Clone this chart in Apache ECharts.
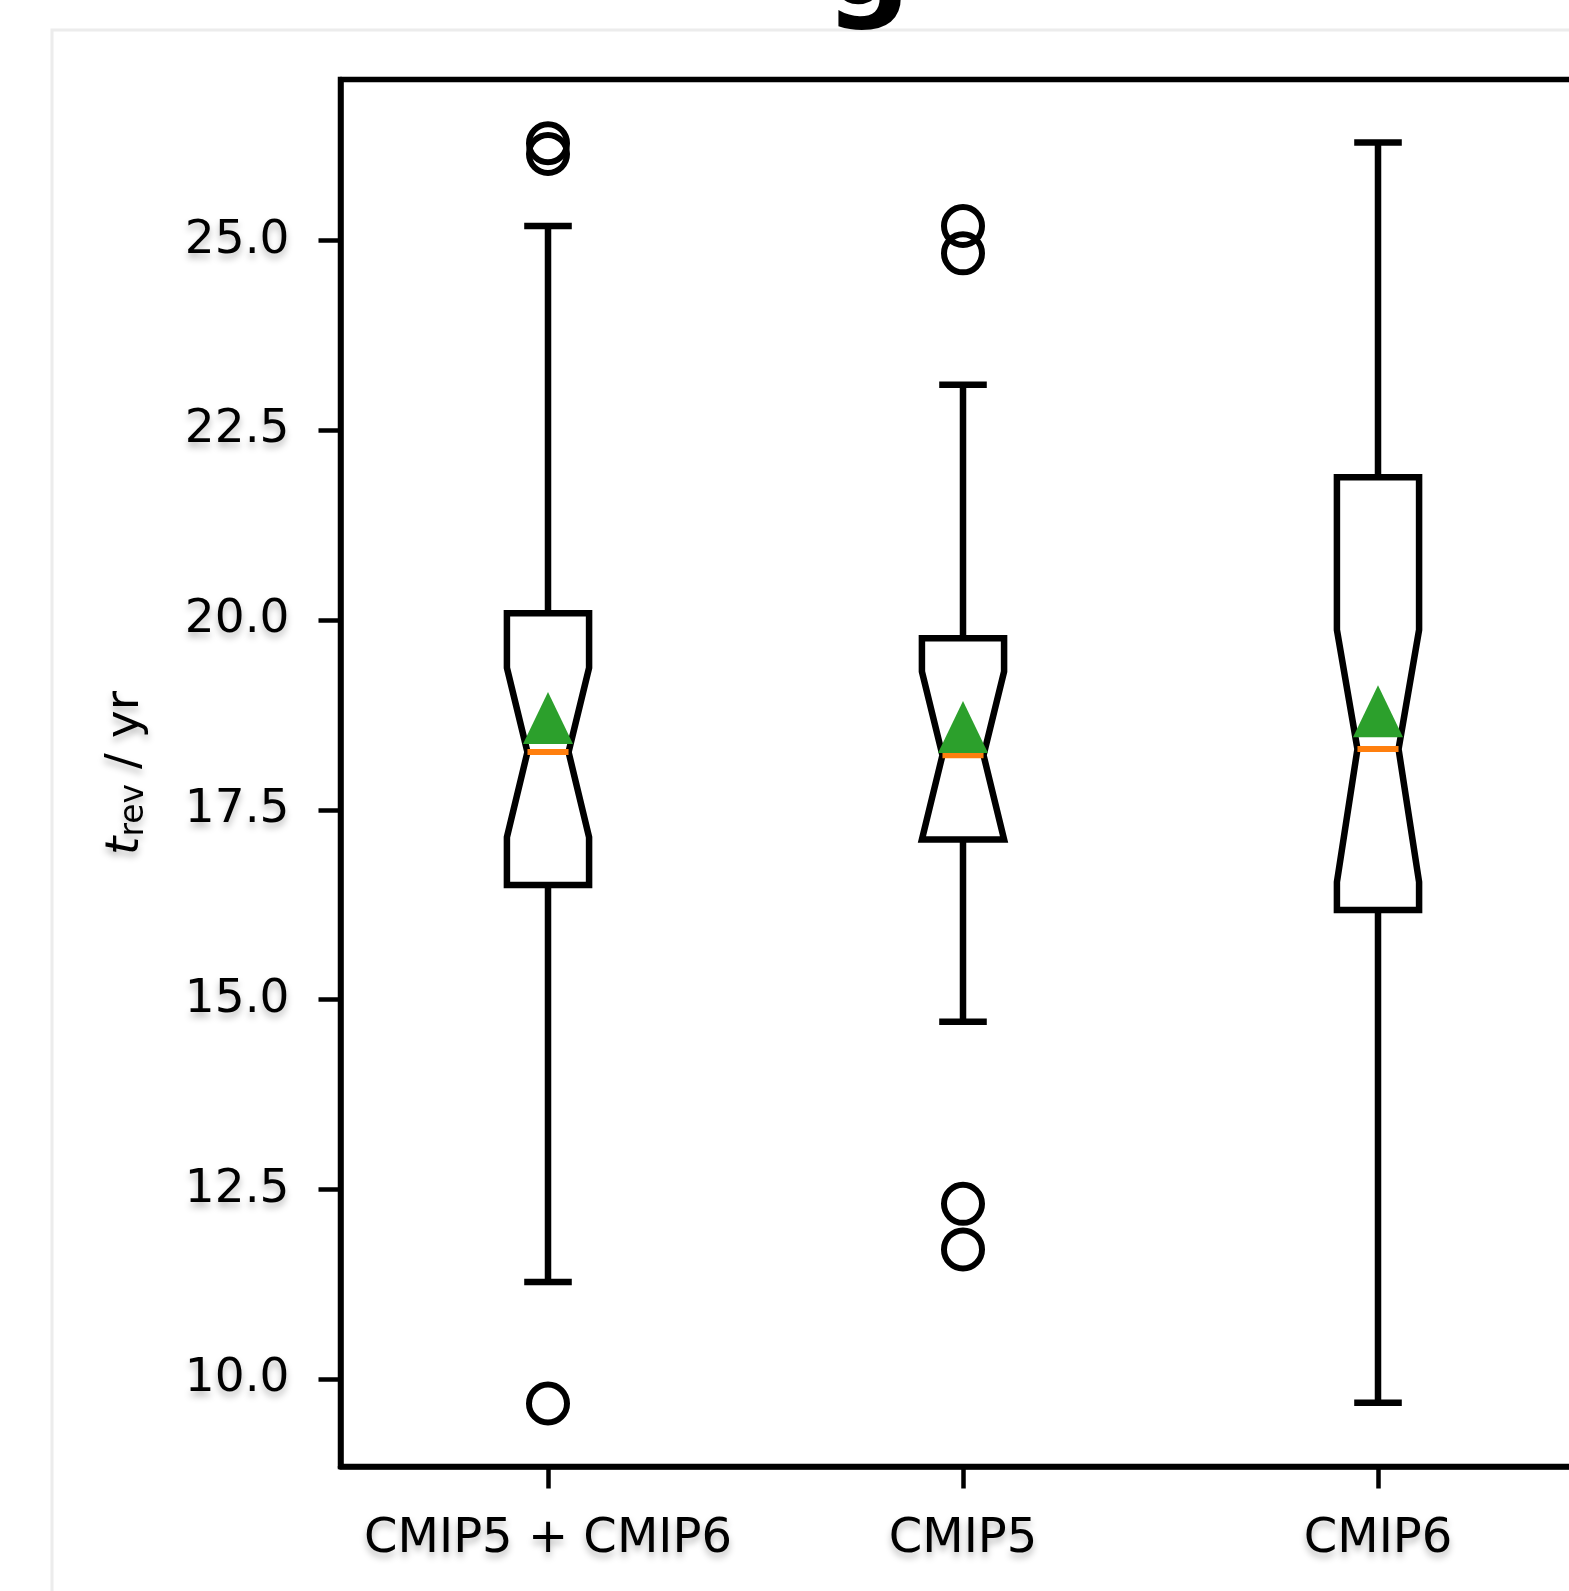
<!DOCTYPE html>
<html>
<head>
<meta charset="utf-8">
<script src="https://cdn.jsdelivr.net/npm/echarts@6/dist/echarts.min.js"></script>
<style>
  html, body { margin: 0; padding: 0; background: #fff; overflow: hidden; }
  #chart { width: 1640px; height: 1591px; }
</style>
</head>
<body>
<div id="chart"></div>
<script>
// groups on the x axis
const categories = ["CMIP5 + CMIP6", "CMIP5", "CMIP6"];
// notched box statistics (years)
const whiskerLow = [11.28, 14.71, 9.69];
const q1 = [16.51, 17.11, 16.18];
const notchLow = [17.14, 17.11, 16.55];
const median = [18.26, 18.22, 18.30];
const notchHigh = [19.37, 19.32, 19.87];
const q3 = [20.09, 19.76, 21.88];
const whiskerHigh = [25.19, 23.10, 26.29];
const means = [18.71, 18.59, 18.80];
// fliers: [group index, value]
const outliers = [
  [0, 26.28], [0, 26.14], [0, 9.68],
  [1, 25.19], [1, 24.83], [1, 12.31], [1, 11.71]
];
const yTicks = [10.0, 12.5, 15.0, 17.5, 20.0, 22.5, 25.0];

const FONT = '"DejaVu Sans", sans-serif';
const shadow = { textShadowColor: "rgba(0,0,0,0.28)", textShadowBlur: 7, textShadowOffsetY: 5 };
const boxFrac = 0.198; // box width as part of one category band
const lw = 6.5;

const boxData = categories.map((c, i) => [i, whiskerLow[i], q1[i], notchLow[i], median[i], notchHigh[i], q3[i], whiskerHigh[i]]);

function renderBox(params, api) {
  const i = api.value(0);
  const pt = v => api.coord([i, v]);
  const cx = pt(api.value(4))[0];
  const w = api.size([1, 0])[0] * boxFrac;
  const h = w / 2;
  const yWl = pt(api.value(1))[1], yQ1 = pt(api.value(2))[1], yNl = pt(api.value(3))[1];
  const yMd = pt(api.value(4))[1], yNh = pt(api.value(5))[1], yQ3 = pt(api.value(6))[1];
  const yWh = pt(api.value(7))[1];
  const black = { stroke: "#000", lineWidth: lw, fill: null };
  const capStyle = { stroke: "#000", lineWidth: lw, lineCap: "square" };
  return {
    type: "group",
    children: [
      { type: "line", shape: { x1: cx, y1: yQ3, x2: cx, y2: yWh }, style: black },
      { type: "line", shape: { x1: cx, y1: yQ1, x2: cx, y2: yWl }, style: black },
      { type: "line", shape: { x1: cx - w / 4, y1: yWh, x2: cx + w / 4, y2: yWh }, style: capStyle },
      { type: "line", shape: { x1: cx - w / 4, y1: yWl, x2: cx + w / 4, y2: yWl }, style: capStyle },
      {
        type: "polygon",
        shape: {
          points: [
            [cx - h, yQ1], [cx - h, yNl], [cx - w / 4, yMd], [cx - h, yNh], [cx - h, yQ3],
            [cx + h, yQ3], [cx + h, yNh], [cx + w / 4, yMd], [cx + h, yNl], [cx + h, yQ1]
          ]
        },
        style: { stroke: "#000", lineWidth: lw, fill: "#fff", lineJoin: "miter" }
      },
      { type: "line", shape: { x1: cx - w / 4, y1: yMd, x2: cx + w / 4, y2: yMd }, style: { stroke: "#ff7f0e", lineWidth: 6 } }
    ]
  };
}

const chart = echarts.init(document.getElementById("chart"));
chart.setOption({
  backgroundColor: "#fff",
  animation: false,
  graphic: [
    { type: "rect", z: -10, shape: { x: 52, y: 30, width: 1700, height: 1700 }, style: { fill: null, stroke: "#ececec", lineWidth: 3 } },
    { type: "text", x: 868, y: -27, style: { text: "g", fontSize: 120, fontWeight: "bold", fontFamily: FONT, fill: "#000", align: "center", verticalAlign: "middle" } }
  ],
  grid: { left: 340.5, top: 79.5, width: 1245, height: 1387, show: true, borderColor: "#000", borderWidth: 5.5, backgroundColor: "transparent" },
  xAxis: {
    type: "category",
    data: categories,
    boundaryGap: true,
    axisLine: { show: true, lineStyle: { color: "#000", width: 5.5 } },
    axisTick: { show: true, alignWithLabel: true, length: 22, lineStyle: { color: "#000", width: 4.5 } },
    axisLabel: { interval: 0, color: "#000", fontSize: 48, fontFamily: FONT, margin: 49, ...shadow },
    splitLine: { show: false }
  },
  yAxis: {
    type: "value",
    min: 8.85,
    max: 27.12,
    name: "{it|t}{sub|rev}{n| / yr}",
    nameLocation: "middle",
    nameGap: 190,
    nameTextStyle: {
      color: "#000", fontFamily: FONT, ...shadow,
      rich: {
        it: { fontSize: 47, fontStyle: "italic", fontFamily: FONT, color: "#000" },
        sub: { fontSize: 33, fontFamily: FONT, color: "#000", verticalAlign: "bottom", padding: [16, 0, 0, 0] },
        n: { fontSize: 47, fontFamily: FONT, color: "#000" }
      }
    },
    axisLine: { show: true, lineStyle: { color: "#000", width: 5.5 } },
    axisTick: { show: true, customValues: yTicks, length: 22, lineStyle: { color: "#000", width: 4.5 } },
    axisLabel: { customValues: yTicks, color: "#000", fontSize: 47, fontFamily: FONT, margin: 51, formatter: v => v.toFixed(1), ...shadow },
    splitLine: { show: false }
  },
  series: [
    { type: "custom", renderItem: renderBox, data: boxData, z: 2 },
    {
      type: "scatter",
      data: outliers,
      symbol: "circle",
      symbolSize: 38,
      itemStyle: { color: "transparent", borderColor: "#000", borderWidth: 6, opacity: 1 },
      z: 3
    },
    {
      type: "scatter",
      data: means.map((m, i) => [i, m]),
      symbol: "triangle",
      symbolSize: [50, 52],
      itemStyle: { color: "#2ca02c", opacity: 1 },
      z: 4
    }
  ]
});
</script>
</body>
</html>
